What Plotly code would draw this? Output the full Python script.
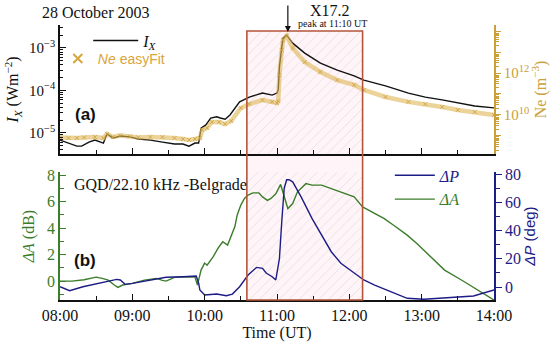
import plotly.graph_objects as go

DAY = "2003-10-28 "

# ---- Panel (a): X-ray flux and electron density ----
ix_time = ["08:00","08:07","08:14","08:18","08:24","08:29","08:36","08:39","08:44","08:50",
           "08:58","09:05","09:15","09:25","09:35","09:42","09:47","09:52","09:55","09:57",
           "10:01","10:05","10:10","10:13","10:17","10:21","10:29","10:37","10:48","10:56",
           "11:00","11:01","11:02","11:04","11:05","11:08","11:13","11:23","11:36","11:50",
           "12:04","12:12","12:30","12:49","13:03","13:17","13:30","13:44","14:00"]
ix_vals = [6.8e-6,5.8e-6,4.9e-6,4.9e-6,6.1e-6,6.8e-6,5.8e-6,9.5e-6,7.6e-6,8.5e-6,
           8.1e-6,7.2e-6,6.8e-6,6.1e-6,5.5e-6,5.5e-6,4.9e-6,5.8e-6,5.8e-6,1.3e-5,
           1.55e-5,2.25e-5,2.4e-5,2.25e-5,2.1e-5,2.65e-5,5.4e-5,7.0e-5,8.7e-5,7.8e-5,
           8.7e-5,1.03e-4,3.6e-4,1.06e-3,1.7e-3,2.0e-3,1.3e-3,7.6e-4,4.4e-4,3.0e-4,
           2.2e-4,1.75e-4,1.28e-4,8.7e-5,7.0e-5,6.0e-5,5.1e-5,4.3e-5,3.9e-5]

ne_time = ["08:00","08:07","08:14","08:20","08:29","08:36","08:39","08:44","08:50","08:58",
           "09:05","09:15","09:25","09:35","09:42","09:47","09:52","09:56","09:58","10:02",
           "10:06","10:12","10:17","10:22","10:30","10:37","10:48","10:56","11:00","11:01",
           "11:02","11:04","11:05","11:08","11:13","11:23","11:36","11:50","12:04","12:12",
           "12:30","12:49","13:03","13:17","13:30","13:44","14:00"]
ne_vals = [8.5e8,8.0e8,8.0e8,8.5e8,9.0e8,8.0e8,1.25e9,9.0e8,1.06e9,9.5e8,
           8.5e8,9.0e8,9.0e8,8.0e8,7.2e8,6.5e8,7.2e8,8.0e8,1.93e9,2.4e9,
           4.6e9,4.6e9,3.7e9,5.2e9,2.15e10,3.3e10,5.2e10,4.2e10,3.7e10,4.6e10,
           8.0e11,1.24e13,3.7e13,5.8e13,1.55e13,3.3e12,1.12e12,4.6e11,2.7e11,1.55e11,
           7.2e10,4.2e10,3.3e10,2.4e10,1.73e10,1.39e10,1.0e10]

# ---- Panel (b): VLF amplitude and phase ----
da_time = ["08:00","08:10","08:20","08:30","08:35","08:40","08:45","08:48","08:52","09:00",
           "09:10","09:20","09:25","09:28","09:35","09:45","09:52","09:54","09:57","10:00",
           "10:02","10:07","10:11","10:15","10:19","10:22","10:25","10:27","10:30","10:33",
           "10:36","10:40","10:45","10:48","10:52","10:55","10:59","11:03","11:06","11:09",
           "11:13","11:17","11:24","11:29","11:37","11:45","11:53","12:04","12:11","12:21",
           "12:29","12:37","12:48","12:56","13:08","13:19","13:33","13:44","14:00"]
da_vals = [0.0,0.0,0.1,0.3,0.2,0.07,-0.3,-0.48,-0.3,-0.17,
           0.07,0.2,0.05,0.0,0.28,0.33,0.3,-0.3,0.83,1.36,
           1.2,1.83,2.47,2.97,2.72,3.35,4.1,5.0,5.74,6.24,
           6.5,6.66,6.66,6.36,6.1,6.24,6.6,7.3,6.36,5.48,
           5.86,6.74,7.36,7.25,7.25,7.0,6.74,6.36,5.6,5.1,
           4.72,4.2,3.47,2.84,1.83,0.83,0.08,-0.55,-1.43]

dp_time = ["08:00","08:08","08:19","08:33","08:47","08:50","08:54","09:00","09:14","09:28",
           "09:42","09:53","09:55","09:56","10:00","10:10","10:18","10:23","10:29","10:36",
           "10:43","10:48","10:51","10:56","10:59","11:02","11:04","11:06","11:08","11:10",
           "11:13","11:20","11:29","11:37","11:45","11:53","12:04","12:12","12:21","12:35",
           "12:48","13:02","13:16","13:29","13:43","14:00"]
dp_vals = [0.2,-2.6,0.2,2.6,5.4,5.0,1.9,2.6,5.0,6.9,
           7.3,7.8,2.8,-2.1,-5.7,-5.0,-6.2,-5.0,0.2,8.5,
           13.9,13.2,9.9,7.3,5.0,20.0,47.0,70.0,76.0,76.0,
           74.5,63.9,48.6,36.8,25.0,16.8,9.7,5.0,1.4,-3.3,
           -8.0,-8.7,-8.0,-6.9,-6.4,-2.1]

# highlighted interval and flare peak
box_start, box_end = "10:35", "12:11"
peak_time = "11:09"

t = lambda lst: [DAY + s for s in lst]

SERIF = "Liberation Serif, Times New Roman, serif"
SANS = "Liberation Sans, Arial, sans-serif"
BLACK = "#111111"
GOLD_AX = "#C9A03A"
GREEN = "#3C7D2B"
NAVY = "#1C1C86"
BOX = "#B4553A"
PINK = "#FFF4F7"

fig = go.Figure()

# hatch of highlighted interval (drawn first, under curves)
hatch = dict(shape="/", fgcolor="#d6d6d6", fgopacity=1, bgcolor="rgba(0,0,0,0)", size=7, solidity=0.08)
fig.add_trace(go.Scatter(x=t([box_start, box_end, box_end, box_start]), y=[-50, -50, 50, 50],
                         xaxis="x", yaxis="y", fill="toself", fillcolor="rgba(0,0,0,0)",
                         fillpattern=hatch, mode="none", showlegend=False, hoverinfo="skip"))
fig.add_trace(go.Scatter(x=t([box_start, box_end, box_end, box_start]),
                         y=[1e-7, 1e-7, 10 ** -2.6, 10 ** -2.6],
                         xaxis="x2", yaxis="y3", fill="toself", fillcolor="rgba(0,0,0,0)",
                         fillpattern=hatch, mode="none", showlegend=False, hoverinfo="skip"))

# panel (a)
fig.add_trace(go.Scatter(x=t(ne_time), y=ne_vals, xaxis="x2", yaxis="y4", mode="lines+markers",
                         line=dict(color="rgba(222,182,85,0.6)", width=4.5),
                         marker=dict(symbol="x-thin", size=4, line=dict(color="rgba(205,160,60,0.8)", width=1)),
                         showlegend=False))
fig.add_trace(go.Scatter(x=t(ix_time), y=ix_vals, xaxis="x2", yaxis="y3", mode="lines",
                         line=dict(color=BLACK, width=1.4),
                         name="<span style='font-family:Liberation Serif'><i>I</i><sub><i>X</i></sub></span>",
                         legend="legend"))
fig.add_trace(go.Scatter(x=[None], y=[None], xaxis="x2", yaxis="y4", mode="markers",
                         marker=dict(symbol="x-thin", size=9, line=dict(color="#D9A53E", width=2)),
                         name="<span style='color:#D9A53E'><i>Ne</i> easyFit</span>",
                         legend="legend3"))

# panel (b)
fig.add_trace(go.Scatter(x=t(dp_time), y=dp_vals, xaxis="x", yaxis="y2", mode="lines",
                         line=dict(color=NAVY, width=1.4),
                         name="<span style='color:#1C1C86'><i>ΔP</i></span>", legend="legend2"))
fig.add_trace(go.Scatter(x=t(da_time), y=da_vals, xaxis="x", yaxis="y", mode="lines",
                         line=dict(color=GREEN, width=1.4),
                         name="<span style='color:#3C7D2B'><i>ΔA</i></span>", legend="legend2"))

xcommon = dict(type="date", range=[DAY + "08:00", DAY + "14:00"], showgrid=False, zeroline=False,
               showline=True, linecolor=BLACK, linewidth=1.5, ticks="inside", ticklen=6,
               tickwidth=1.3, tickcolor=BLACK, dtick=3600000, tick0=DAY + "08:00",
               tickformat="%H:%M", minor=dict(ticks="inside", ticklen=4, dtick=1800000,
                                              tickcolor=BLACK, tickwidth=1.2),
               tickfont=dict(family=SERIF, size=16, color=BLACK), automargin=False)

logminor = [m * 10 ** e for e in range(-6, -1) for m in range(2, 10)]
neminor = [m * 10 ** e for e in range(8, 15) for m in range(2, 10)]

fig.update_layout(
    width=550, height=353,
    margin=dict(l=60, r=56, t=25, b=53),
    paper_bgcolor="white", plot_bgcolor="rgba(0,0,0,0)",
    xaxis=dict(**xcommon, anchor="y", domain=[0, 1],
               title=dict(text="Time (UT)", font=dict(family=SERIF, size=16, color=BLACK), standoff=4)),
    xaxis2=dict(**xcommon, anchor="y3", domain=[0, 1], matches="x", showticklabels=False),
    yaxis=dict(domain=[0, 0.465], anchor="x", range=[-1.43, 8.23], tickvals=[0, 2, 4, 6, 8],
               showgrid=False, zeroline=False, showline=True, linecolor=GREEN, linewidth=1.5,
               ticks="inside", ticklen=6, tickwidth=1.3, tickcolor=GREEN,
               minor=dict(ticks="inside", ticklen=4, tickvals=[-1, 1, 3, 5, 7], tickcolor=GREEN),
               tickfont=dict(family=SERIF, size=16, color=GREEN), automargin=False,
               title=dict(text="<i>ΔA</i> (dB)", font=dict(family=SERIF, size=16, color=GREEN), standoff=8)),
    yaxis2=dict(overlaying="y", side="right", anchor="x", range=[-9.2, 81.4],
                tickvals=[0, 20, 40, 60, 80], showgrid=False, zeroline=False, showline=True,
                linecolor=NAVY, linewidth=1.5, ticks="outside", ticklen=6, tickwidth=1.3,
                tickcolor=NAVY, minor=dict(ticks="outside", ticklen=4, tickvals=[10, 30, 50, 70],
                                           tickcolor=NAVY),
                tickfont=dict(family=SERIF, size=16, color=NAVY), automargin=False,
                title=dict(text="<i>ΔP</i> (deg)", font=dict(family=SANS, size=15, color=NAVY), standoff=4)),
    yaxis3=dict(domain=[0.531, 1], anchor="x2", type="log", range=[-5.494, -2.459],
                tickvals=[1e-5, 1e-4, 1e-3], ticktext=["10<sup>−5</sup>", "10<sup>−4</sup>", "10<sup>−3</sup>"],
                showgrid=False, zeroline=False, showline=True, linecolor=BLACK, linewidth=1.5,
                ticks="inside", ticklen=6, tickwidth=1.3, tickcolor=BLACK,
                minor=dict(ticks="inside", ticklen=3, tickvals=logminor, tickcolor=BLACK),
                tickfont=dict(family=SERIF, size=15, color=BLACK), automargin=False,
                title=dict(text="<i>I</i><sub><i>X</i></sub> (Wm<sup>−2</sup>)",
                           font=dict(family=SERIF, size=16, color=BLACK), standoff=6)),
    yaxis4=dict(overlaying="y3", side="right", anchor="x2", type="log", range=[8.143, 14.286],
                tickvals=[1e9, 1e10, 1e11, 1e12, 1e13, 1e14],
                ticktext=["", "10<sup>10</sup>", "", "10<sup>12</sup>", "", ""],
                showgrid=False, zeroline=False, showline=True, linecolor=GOLD_AX, linewidth=1.5,
                ticks="outside", ticklen=5, tickwidth=1.3, tickcolor=GOLD_AX,
                minor=dict(ticks="outside", ticklen=3, tickvals=neminor, tickcolor=GOLD_AX),
                tickfont=dict(family=SERIF, size=15, color=GOLD_AX), automargin=False,
                title=dict(text="Ne (m<sup>−3</sup>)", font=dict(family=SERIF, size=16, color=GOLD_AX), standoff=2)),
    legend=dict(x=0.065, y=1.005, xanchor="left", yanchor="top", bgcolor="rgba(0,0,0,0)",
                font=dict(family=SERIF, size=16, color=BLACK), itemwidth=45),
    legend3=dict(x=-0.005, y=0.935, xanchor="left", yanchor="top", bgcolor="rgba(0,0,0,0)",
                 font=dict(family=SANS, size=14, color="#D9A53E"), itemwidth=30),
    legend2=dict(x=0.76, y=0.515, xanchor="left", yanchor="top", bgcolor="rgba(0,0,0,0)",
                 font=dict(family=SERIF, size=16), itemwidth=40, tracegroupgap=0),
    shapes=[
        dict(type="rect", xref="x", yref="paper", x0=DAY + box_start, x1=DAY + box_end,
             y0=0, y1=0.978, fillcolor=PINK, line=dict(width=0), layer="below"),
        dict(type="rect", xref="x", yref="paper", x0=DAY + box_start, x1=DAY + box_end,
             y0=0, y1=0.978, fillcolor="rgba(0,0,0,0)", line=dict(color=BOX, width=1.6), layer="above"),
    ],
    annotations=[
        dict(text="28 October 2003", xref="paper", yref="paper", x=-0.046, y=1.047,
             xanchor="left", yanchor="middle", showarrow=False,
             font=dict(family=SERIF, size=16, color=BLACK)),
        dict(text="X17.2", xref="paper", yref="paper", x=0.622, y=1.051, xanchor="center",
             yanchor="middle", showarrow=False, font=dict(family=SERIF, size=16, color=BLACK)),
        dict(text="peak at 11:10 UT", xref="paper", yref="paper", x=0.627, y=1.004,
             xanchor="center", yanchor="middle", showarrow=False,
             font=dict(family=SERIF, size=10, color=BLACK)),
        dict(text="", x=DAY + peak_time, xref="x", yref="paper", y=0.975, ax=0, ay=-28,
             showarrow=True, arrowhead=2, arrowsize=1, arrowwidth=1.2, arrowcolor=BLACK),
        dict(text="<b>(a)</b>", xref="paper", yref="paper", x=0.058, y=0.673, xanchor="center",
             yanchor="middle", showarrow=False, font=dict(family=SANS, size=17, color=BLACK)),
        dict(text="<b>(b)</b>", xref="paper", yref="paper", x=0.058, y=0.145, xanchor="center",
             yanchor="middle", showarrow=False, font=dict(family=SANS, size=17, color=BLACK)),
        dict(text="GQD/22.10 kHz -Belgrade", xref="paper", yref="paper", x=0.028, y=0.418,
             xanchor="left", yanchor="middle", showarrow=False,
             font=dict(family=SERIF, size=16, color=BLACK)),
    ],
)

fig.write_html("out.html", config={"displayModeBar": False},
               post_script="document.body.style.margin='0px';")
